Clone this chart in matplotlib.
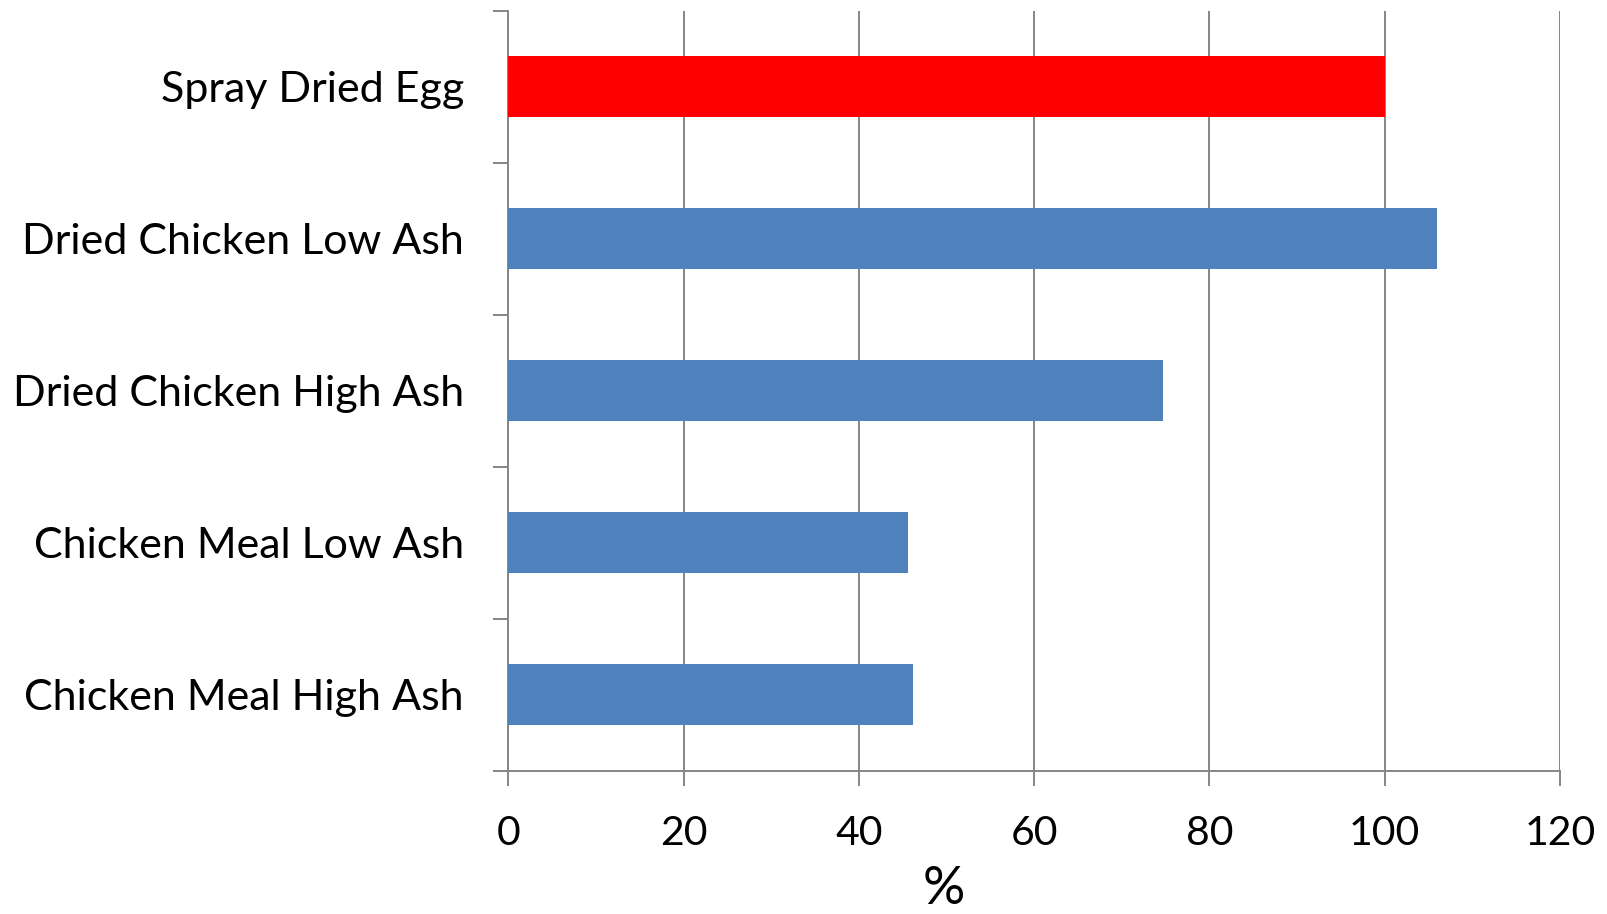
import matplotlib.pyplot as plt

# bar chart: relative values per protein source
categories = ['Spray Dried Egg', 'Dried Chicken Low Ash', 'Dried Chicken High Ash',
              'Chicken Meal Low Ash', 'Chicken Meal High Ash']
values = [100, 106, 74.7, 45.6, 46.2]
colors = ['#FF0000', '#4F81BD', '#4F81BD', '#4F81BD', '#4F81BD']
xticks = [0, 20, 40, 60, 80, 100, 120]

plt.rcParams['font.family'] = ['Lato', 'DejaVu Sans']
grey = '#868686'

fig = plt.figure(figsize=(16.08, 9.14), dpi=100)
ax = fig.add_axes([0.3161, 0.1568, 0.9701 - 0.3161, 0.9883 - 0.1568])

ypos = list(range(len(categories)))
ax.barh(ypos, values, height=0.4, color=colors, zorder=3)
ax.set_ylim(len(categories) - 0.5, -0.5)
ax.set_xlim(0, 120)

ax.set_xticks(xticks)
ax.set_xticklabels([str(v) for v in xticks])
# major y ticks sit between the bars, labels on minor ticks at bar centres
ax.set_yticks([y + 0.5 for y in ypos] + [-0.5], minor=False)
ax.set_yticklabels([])
ax.set_yticks(ypos, minor=True)
ax.set_yticklabels(categories, minor=True)

ax.tick_params(axis='y', which='major', direction='out', length=11, width=1.4, color=grey)
ax.tick_params(axis='y', which='minor', length=0, pad=32, labelsize=31)
ax.tick_params(axis='x', direction='out', length=11, width=1.4, color=grey,
               labelsize=29.5, pad=21)

ax.grid(axis='x', color=grey, linewidth=1.4, zorder=0)
for side in ['top', 'right']:
    ax.spines[side].set_visible(False)
for side in ['left', 'bottom']:
    ax.spines[side].set_color(grey)
    ax.spines[side].set_linewidth(1.4)

fig.text(944 / 1608, 1 - 889 / 914, '%', fontsize=38, ha='center', va='center')

fig.savefig('out.png', dpi=100)
